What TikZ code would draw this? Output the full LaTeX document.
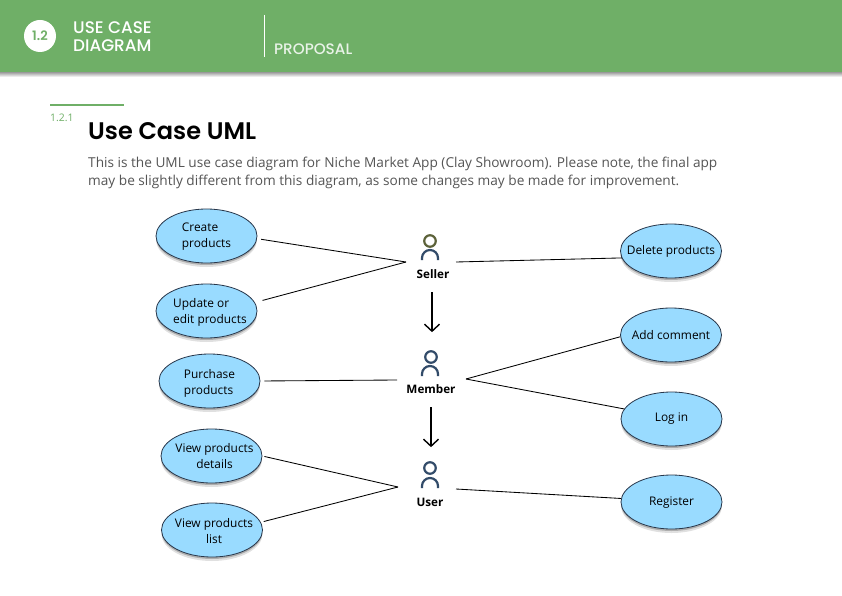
\documentclass[tikz,border=0pt]{standalone}
\usepackage{fontspec}
\setmainfont{Open Sans}
\newfontfamily\headfont{Poppins Medium}
\newfontfamily\titlefont{Poppins SemiBold}
\usetikzlibrary{shapes.geometric,shadows,arrows.meta,calc}
\definecolor{band}{RGB}{111,175,103}
\definecolor{ucfill}{RGB}{153,219,255}
\definecolor{ucline}{RGB}{40,55,75}
\definecolor{actorblue}{RGB}{50,75,105}
\definecolor{actorolive}{RGB}{92,98,57}
\definecolor{bodytext}{RGB}{85,85,85}
\tikzset{
  uc/.style={ellipse,draw=ucline,line width=.8pt,fill=ucfill,minimum width=101pt,minimum height=54pt,inner sep=-15pt,
    font=\fontsize{11.9}{16}\selectfont,align=center,
    drop shadow={shadow xshift=0pt,shadow yshift=-4pt,opacity=.12,fill=black},
    drop shadow={shadow xshift=0pt,shadow yshift=-2pt,opacity=.22,fill=black}},
  assoc/.style={draw=black,line width=.85pt},
  gap/.style={shorten <=#1},
  gap/.default=4pt,
  generalise/.style={draw=black,line width=1.4pt,-{Straight Barb[length=7pt,width=15pt,line width=1.4pt]}},
  actorname/.style={font=\fontsize{11.7}{14}\selectfont\bfseries,inner sep=0pt,anchor=base},
  actorhead/.style={circle,draw=#1,line width=2.2pt,minimum size=11.5pt,inner sep=0pt},
  actorbody/.style={draw=actorblue,line width=2.2pt},
  headtext/.style={font=\headfont\fontsize{16.8}{18}\selectfont,text=white,inner sep=0pt,anchor=west,align=left}
}
% #1 = right shift x 2, #2 = downward shift x 2, #3 = column type, #4 = lines
\newcommand{\uctext}[4]{\raisebox{0pt}[\dimexpr\height+#2pt\relax][\depth]{\kern#1pt\begin{tabular}{@{}#3@{}}#4\end{tabular}}}
\newcommand{\actorarch}[2]{\draw[actorbody] (#1-8,#2+10) -- (#1-8,#2+8) arc[start angle=180,end angle=0,radius=8pt] -- (#1+8,#2+10);}
\begin{document}
\begin{tikzpicture}[x=1pt,y=-1pt]
\useasboundingbox (0,0) rectangle (842,596);
\fill[white] (0,0) rectangle (842,596);
% header band
\shade[top color=black!40,bottom color=white] (0,72) rectangle (842,77);
\fill[band] (0,0) rectangle (842,72);
\node[circle,fill=white,minimum size=32pt,inner sep=0pt,text=band,font=\titlefont\fontsize{13}{14}\selectfont] (badge) at (40,36) {1.2};
\node[headtext] (section) at (73,37) {USE CASE\\DIAGRAM};
\draw[white,line width=.9pt] (264.5,15) -- (264.5,57);
\node[headtext,text=white!85!band,font=\headfont\fontsize{15.2}{16}\selectfont] (part) at (274,49) {PROPOSAL};
% heading
\draw[draw=band,line width=2pt] (50,105.5) -- (124,105.5);
\node[anchor=west,inner sep=0pt,text=band,font=\fontsize{10.4}{11}\selectfont] (num) at (50,118) {1.2.1};
\node[anchor=west,inner sep=0pt,text=black,font=\titlefont\fontsize{24}{28}\selectfont] (title) at (88,131) {Use Case UML};
\node[anchor=north west,inner sep=0pt,text=bodytext,align=left,font=\fontsize{13.65}{18}\selectfont] (intro) at (88,157) {This is the UML use case diagram for Niche Market App (Clay Showroom). Please note, the final app\\may be slightly different from this diagram, as some changes may be made for improvement.};
% use cases
\node[uc] (create) at (206.5,236) {\uctext{0}{0}{l}{Create\\products}};
\node[uc] (update) at (206.5,311) {\uctext{7}{2}{l}{Update or\\edit products}};
\node[uc] (purchase) at (209.5,381) {\uctext{0}{4}{l}{Purchase\\products}};
\node[uc] (details) at (211.5,456) {\uctext{6}{2}{c}{View products\\details}};
\node[uc] (list) at (212,530) {\uctext{4}{4}{c}{View products\\list}};
\node[uc] (delete) at (671,251) {\uctext{0}{0}{c}{Delete products}};
\node[uc] (comment) at (671,335) {Add comment};
\node[uc] (login) at (671.5,419) {\uctext{0}{-2}{c}{Log in}};
\node[uc] (register) at (671.5,502) {\uctext{0}{0}{c}{Register}};
% actors
\node[actorhead=actorolive] (sellerhead) at (430,241) {};
\actorarch{430}{250}
\node[actorname] (seller) at (433,278) {Seller};
\node[actorhead=actorblue] (memberhead) at (431,357) {};
\actorarch{430}{366}
\node[actorname] (member) at (431,393) {Member};
\node[actorhead=actorblue] (userhead) at (430,468) {};
\actorarch{430}{478}
\node[actorname] (user) at (430,506) {User};
% junction points
\coordinate (sellerL) at (406,262);
\coordinate (sellerR) at (456,262);
\coordinate (memberL) at (397,380);
\coordinate (memberR) at (466,379);
\coordinate (userL) at (398,487);
\coordinate (userR) at (456,489);
% associations
\draw[assoc,gap] (create.-3) -- (sellerL);
\draw[assoc,gap=8pt] (update.10.7) -- (sellerL);
\draw[assoc] (sellerR) -- (delete.188);
\draw[assoc,gap] (purchase.east) -- (memberL);
\draw[assoc] (memberR) -- (comment.182);
\draw[assoc] (memberR) -- (login.168);
\draw[assoc,gap=2pt] (details.east) -- (userL);
\draw[assoc,gap=3pt] (list.9.8) -- (userL);
\draw[assoc] (userR) -- (register.176.5);
% generalisations
\draw[generalise,shorten <=14pt,shorten >=18pt] ([xshift=-1pt]seller.south) -- ([xshift=-1pt]seller.south |- memberhead.north);
\draw[generalise,shorten <=14pt,shorten >=14pt] (member.south) -- (member.south |- userhead.north);
\end{tikzpicture}
\end{document}
